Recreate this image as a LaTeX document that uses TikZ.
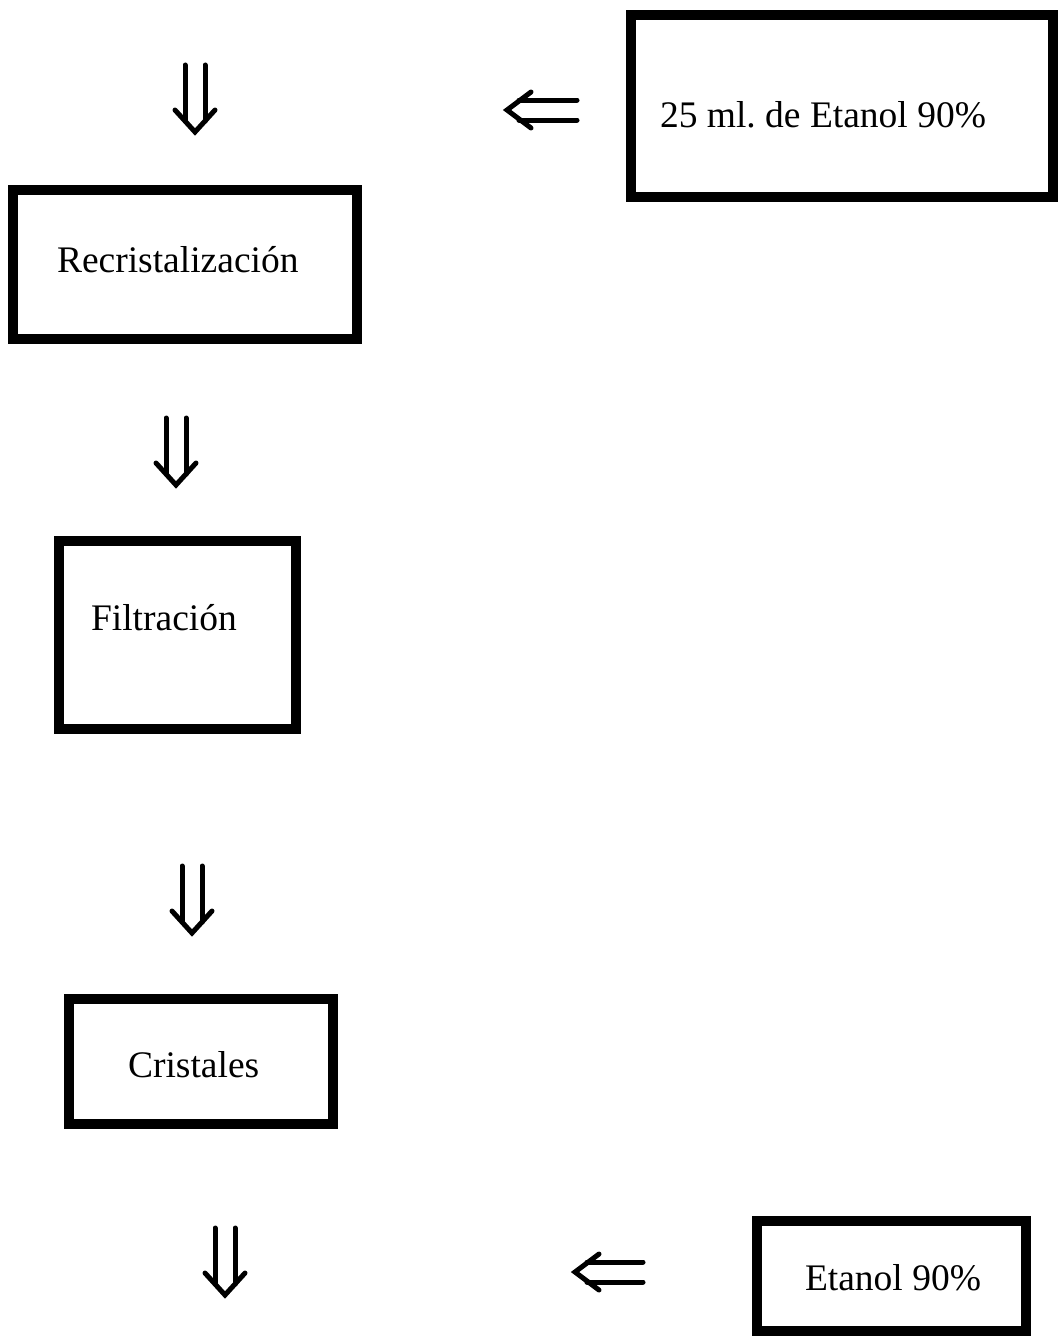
\documentclass[tikz,border=0pt]{standalone}
\usepackage{fontspec}
\setmainfont{Liberation Serif}
\frenchspacing
\tikzset{
  boxnode/.style={draw=black, line width=10pt, rectangle, inner sep=0pt, outer sep=0pt},
  txt/.style={inner sep=0pt, outer sep=0pt, anchor=base west, font=\fontsize{37.5}{45}\selectfont},
  arrline/.style={draw=black, line width=5pt, line cap=round, line join=miter},
  pics/downarr/.style={code={
    \draw[arrline] (-10,0) -- (-10,56) (10,0) -- (10,56);
    \draw[arrline] (-20,45) -- (0,67) -- (20,45);
  }},
  pics/leftarr/.style={code={
    \draw[arrline] (12,-10) -- (#1,-10) (12,10) -- (#1,10);
    \draw[arrline] (24,-18) -- (0,0) -- (24,18);
  }},
}
\begin{document}
\begin{tikzpicture}[x=1pt,y=-1pt]
\useasboundingbox (0,0) rectangle (1058,1338);
\clip (0,0) rectangle (1058,1338);
% boxes
\node[boxnode, minimum width=422pt, minimum height=182pt] (etanolA) at (842,106) {};
\node[boxnode, minimum width=344pt, minimum height=149pt] (recri) at (185,264.5) {};
\node[boxnode, minimum width=237pt, minimum height=188pt] (filt) at (177.5,635) {};
\node[boxnode, minimum width=264pt, minimum height=125pt] (crist) at (201,1061.5) {};
\node[boxnode, minimum width=269pt, minimum height=110pt] (etanolB) at (891.5,1276) {};
% texts
\node[txt] (tA) at (660,127) {25 ml. de Etanol 90\%};
\node[txt] (tR) at (57,272) {Recristalización};
\node[txt] (tF) at (91,630) {Filtración};
\node[txt] (tC) at (128,1077) {Cristales};
\node[txt] (tB) at (805,1290) {Etanol 90\%};
% arrows
\pic (d1) at (195,65) {downarr};
\pic (d2) at (176,418) {downarr};
\pic (d3) at (192,866) {downarr};
\pic (d4) at (225,1228) {downarr};
\pic (l1) at (507,110) {leftarr=577-507};
\pic (l2) at (575,1272) {leftarr=643-575};
\end{tikzpicture}
\end{document}
